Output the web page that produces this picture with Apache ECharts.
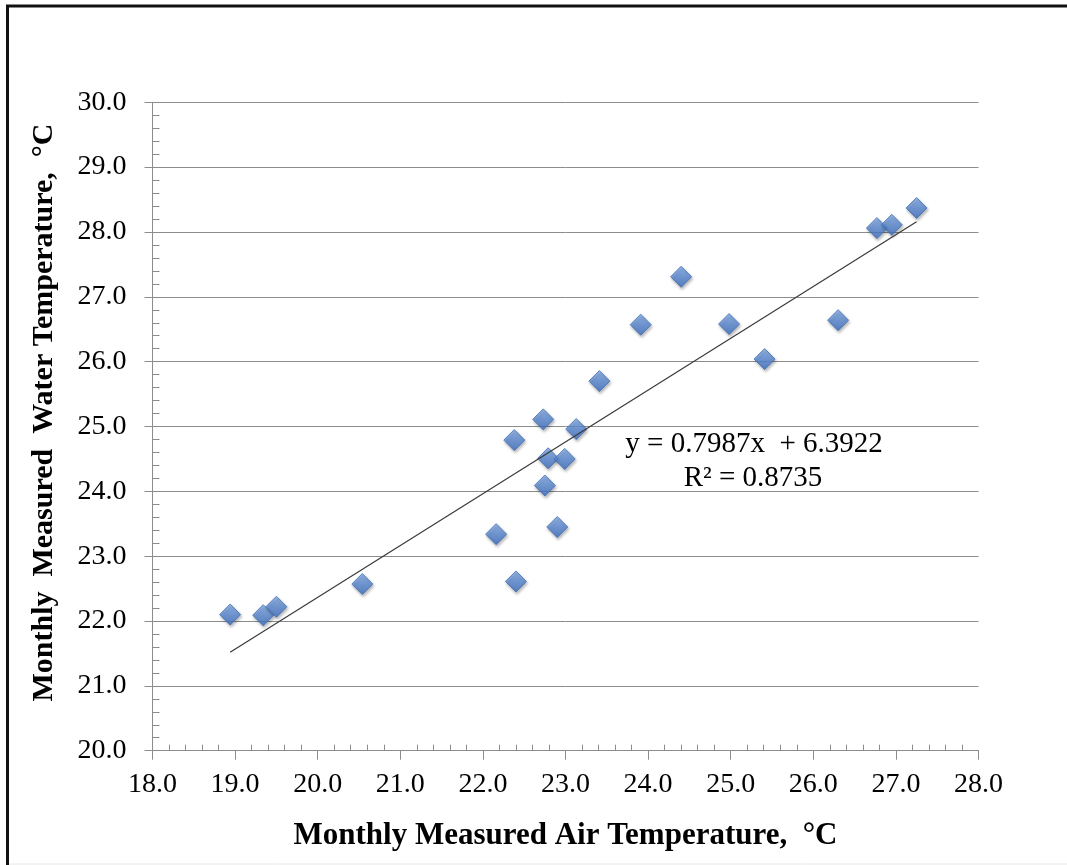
<!DOCTYPE html>
<html>
<head>
<meta charset="utf-8">
<script src="https://cdn.jsdelivr.net/npm/echarts@6/dist/echarts.min.js"></script>
<style>
  html, body { margin: 0; padding: 0; background: #fff; }
  #chart { width: 1067px; height: 865px; }
</style>
</head>
<body>
<div id="chart"></div>
<script>
// monthly measured air temperature (x) vs water temperature (y), °C
const airTemp = [18.94, 19.34, 19.50, 20.54, 22.16, 22.38, 22.40, 22.73, 22.75, 22.79, 22.90,
                 22.99, 23.13, 23.41, 23.91, 24.40, 24.98, 25.41, 26.30, 26.77, 26.95, 27.25];
const waterTemp = [22.10, 22.09, 22.22, 22.57, 23.34, 24.79, 22.61, 25.11, 24.09, 24.51, 23.45,
                   24.50, 24.96, 25.70, 26.57, 27.31, 26.58, 26.04, 26.64, 28.06, 28.11, 28.37];

// linear trendline as reported on the chart
const slope = 0.7987;
const intercept = 6.3922;
const rSquared = 0.8735;

const xTitle = 'Monthly Measured Air Temperature,  °C';
const yTitle = 'Monthly  Measured  Water Temperature,  °C';

const points = airTemp.map((x, i) => [x, waterTemp[i]]);
const xMin = Math.min(...airTemp);
const xMax = Math.max(...airTemp);
const trend = [[xMin, slope * xMin + intercept], [xMax, slope * xMax + intercept]];

const serif = '"Liberation Serif", "Times New Roman", serif';
const axisGray = '#8c8c8c';

const chart = echarts.init(document.getElementById('chart'));
chart.setOption({
  animation: false,
  backgroundColor: '#fff',
  grid: { left: 152.5, right: 88.5, top: 102.3, bottom: 114.3 },
  xAxis: {
    type: 'value',
    min: 18, max: 28, interval: 1,
    axisLine: { show: true, lineStyle: { color: axisGray, width: 1 } },
    axisTick: { show: true, length: 9, lineStyle: { color: axisGray } },
    minorTick: { show: true, splitNumber: 5, length: -6, lineStyle: { color: axisGray } },
    splitLine: { show: false },
    axisLabel: {
      margin: 20, color: '#000', fontFamily: serif, fontSize: 28,
      formatter: v => v.toFixed(1)
    },
    name: xTitle,
    nameLocation: 'middle',
    nameGap: 70,
    nameTextStyle: { fontFamily: serif, fontSize: 31, fontWeight: 'bold', color: '#000' }
  },
  yAxis: {
    type: 'value',
    min: 20, max: 30, interval: 1,
    axisLine: { show: true, lineStyle: { color: axisGray, width: 1 } },
    axisTick: { show: true, length: 8, lineStyle: { color: axisGray } },
    minorTick: { show: true, splitNumber: 5, length: -7, lineStyle: { color: axisGray } },
    splitLine: { show: true, lineStyle: { color: axisGray, width: 1 } },
    axisLabel: {
      margin: 26, color: '#000', fontFamily: serif, fontSize: 28,
      formatter: v => v.toFixed(1)
    },
    name: yTitle,
    nameLocation: 'middle',
    nameGap: 93,
    nameTextStyle: {
      fontFamily: serif, fontSize: 30, fontWeight: 'bold', color: '#000',
      padding: [0, 0, 0, 28]
    }
  },
  series: [
    {
      type: 'scatter',
      data: points,
      symbol: 'diamond',
      symbolSize: 21,
      itemStyle: {
        color: new echarts.graphic.LinearGradient(0, 0, 0, 1, [
          { offset: 0, color: '#86aee8' },
          { offset: 0.5, color: '#5b8ad4' },
          { offset: 1, color: '#3b6cbc' }
        ]),
        borderColor: '#3d6fb8',
        borderWidth: 1,
        shadowBlur: 3,
        shadowOffsetX: 1,
        shadowOffsetY: 2,
        shadowColor: 'rgba(0,0,0,0.35)'
      },
      z: 2
    },
    {
      type: 'line',
      data: trend,
      symbol: 'none',
      lineStyle: { color: '#3a3a3a', width: 1.2 },
      z: 3
    }
  ],
  graphic: [
    // frame edges of the original figure
    { type: 'line', shape: { x1: 7.5, y1: 5, x2: 7.5, y2: 865 }, style: { stroke: '#111', lineWidth: 3 }, z: 10 },
    { type: 'line', shape: { x1: 6, y1: 6, x2: 1067, y2: 6 }, style: { stroke: '#111', lineWidth: 3 }, z: 10 },
    { type: 'line', shape: { x1: 9, y1: 864, x2: 1067, y2: 864 }, style: { stroke: '#e6e6e6', lineWidth: 1 }, z: 10 },
    {
      type: 'text',
      position: [754, 444],
      style: {
        text: 'y = 0.7987x  + 6.3922', fill: '#000',
        font: '29px ' + serif, textAlign: 'center', textVerticalAlign: 'middle'
      },
      z: 10
    },
    {
      type: 'text',
      position: [753, 478],
      style: {
        text: 'R² = ' + rSquared.toFixed(4), fill: '#000',
        font: '29px ' + serif, textAlign: 'center', textVerticalAlign: 'middle'
      },
      z: 10
    }
  ]
});
</script>
</body>
</html>
